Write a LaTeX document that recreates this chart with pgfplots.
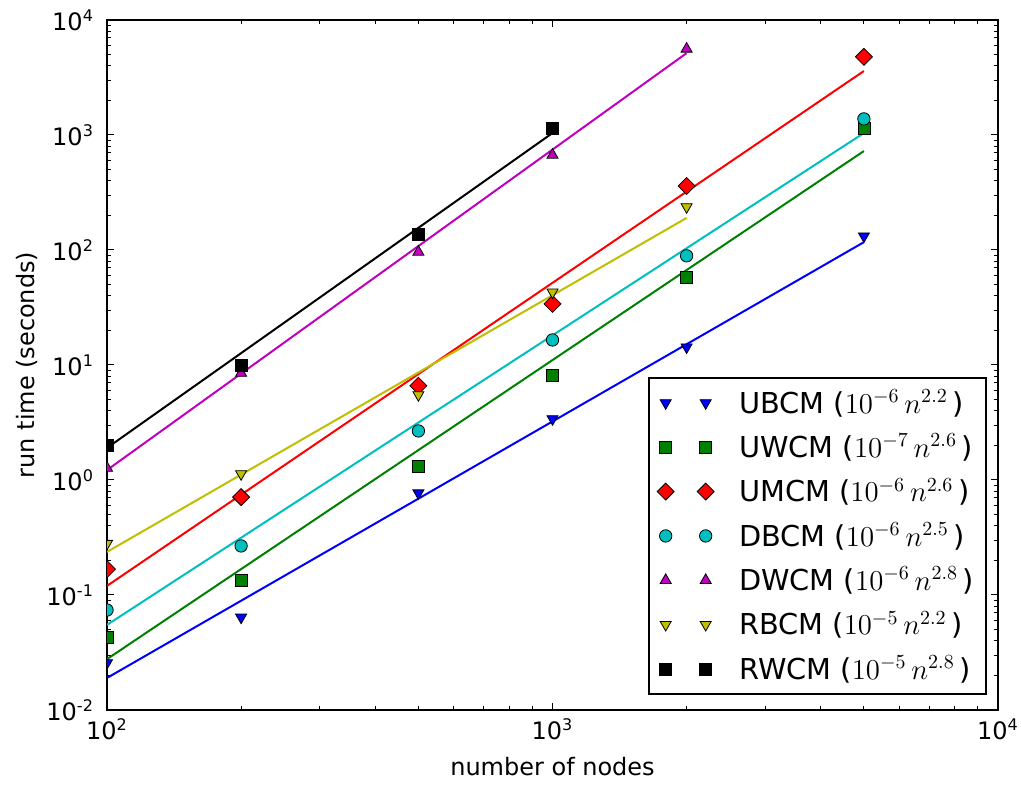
\documentclass[border=0pt]{standalone}
\usepackage{fontspec}
\setmainfont{DejaVu Sans}
\usepackage{pgfplots}
\pgfplotsset{compat=1.18}
\definecolor{mb}{rgb}{0,0,1}
\definecolor{mg}{rgb}{0,0.5,0}
\definecolor{mr}{rgb}{1,0,0}
\definecolor{mc}{rgb}{0,0.75,0.75}
\definecolor{mm}{rgb}{0.75,0,0.75}
\definecolor{my}{rgb}{0.75,0.75,0}
\begin{document}
\begin{tikzpicture}
\useasboundingbox (-53.5pt,-37.5pt) rectangle (457pt,355pt);
\begin{axis}[
  scale only axis, width=445.5pt, height=345pt,
  xmode=log, ymode=log,
  xmin=100, xmax=10000, ymin=0.01, ymax=10000,
  xtick={100,1000,10000},
  xticklabels={10\textsuperscript{2},10\textsuperscript{3},10\textsuperscript{4}},
  ytick={0.01,0.1,1,10,100,1000,10000},
  yticklabels={10\textsuperscript{-2},10\textsuperscript{-1},10\textsuperscript{0},10\textsuperscript{1},10\textsuperscript{2},10\textsuperscript{3},10\textsuperscript{4}},
  tick label style={font=\fontsize{12}{14}\selectfont},
  yticklabel style={xshift=-3pt},
  xticklabel style={yshift=-1pt},
  axis line style={line width=0.9pt},
  major tick length=3.5pt, minor tick length=2pt,
  tick style={line width=0.5pt, black},
  xlabel={number of nodes}, ylabel={run time (seconds)},
  label style={font=\fontsize{12}{14}\selectfont},
  xlabel style={at={(axis description cs:0.5,-0.0826)}, anchor=center},
  ylabel style={at={(axis description cs:-0.0898,0.5)}, anchor=center},
  clip marker paths=true,
  legend style={at={(0.9877,0.0217)}, anchor=south east, draw=black, line width=0.9pt,
    font=\fontsize{14.4}{17}\selectfont, row sep=5pt, inner xsep=4pt, inner ysep=4pt,
    /tikz/every odd column/.append style={column sep=10.5pt}},
  legend cell align=left,
  legend image code/.code={\draw[only marks] plot coordinates {(0pt,0pt) (20pt,0pt)};},
  every axis plot/.append style={line width=1pt},
]
% fitted lines
\addplot[mb, forget plot] coordinates {(100,0.019) (5000,117)};
\addplot[mg, forget plot] coordinates {(100,0.0277) (5000,725)};
\addplot[mr, forget plot] coordinates {(100,0.12) (5000,3600)};
\addplot[mc, forget plot] coordinates {(100,0.055) (5000,1040)};
\addplot[mm, forget plot] coordinates {(100,1.22) (2000,5150)};
\addplot[my, forget plot] coordinates {(100,0.237) (2000,190)};
\addplot[black, forget plot] coordinates {(100,1.9) (1000,1040)};
% measured points
\addplot[only marks, mark=triangle*, mark size=3.2pt, mark options={rotate=180, fill=mb, draw=black, line width=0.4pt}]
  coordinates {(100,0.0257) (200,0.064) (500,0.77) (1000,3.4) (2000,14.3) (5000,132)};
\addlegendentry{UBCM ($10^{-6}\,n^{2.2}\,$)}
\addplot[only marks, mark=square*, mark size=3pt, mark options={fill=mg, draw=black, line width=0.4pt}]
  coordinates {(100,0.043) (200,0.135) (500,1.32) (1000,8.2) (2000,58) (5000,1130)};
\addlegendentry{UWCM ($10^{-7}\,n^{2.6}\,$)}
\addplot[only marks, mark=square*, mark size=3pt, mark options={rotate=45, fill=mr, draw=black, line width=0.4pt}]
  coordinates {(100,0.168) (200,0.71) (500,6.6) (1000,34) (2000,360) (5000,4780)};
\addlegendentry{UMCM ($10^{-6}\,n^{2.6}\,$)}
\addplot[only marks, mark=*, mark size=3.1pt, mark options={fill=mc, draw=black, line width=0.4pt}]
  coordinates {(100,0.074) (200,0.267) (500,2.67) (1000,16.5) (2000,89) (5000,1380)};
\addlegendentry{DBCM ($10^{-6}\,n^{2.5}\,$)}
\addplot[only marks, mark=triangle*, mark size=3.2pt, mark options={fill=mm, draw=black, line width=0.4pt}]
  coordinates {(100,1.27) (200,8.5) (500,96) (1000,670) (2000,5600)};
\addlegendentry{DWCM ($10^{-6}\,n^{2.8}\,$)}
\addplot[only marks, mark=triangle*, mark size=3.2pt, mark options={rotate=180, fill=my, draw=black, line width=0.4pt}]
  coordinates {(100,0.28) (200,1.13) (500,5.5) (1000,43) (2000,237)};
\addlegendentry{RBCM ($10^{-5}\,n^{2.2}\,$)}
\addplot[only marks, mark=square*, mark size=3pt, mark options={fill=black, draw=black, line width=0.4pt}]
  coordinates {(100,1.98) (200,10) (500,138) (1000,1150)};
\addlegendentry{RWCM ($10^{-5}\,n^{2.8}\,$)}
\end{axis}
\end{tikzpicture}
\end{document}
